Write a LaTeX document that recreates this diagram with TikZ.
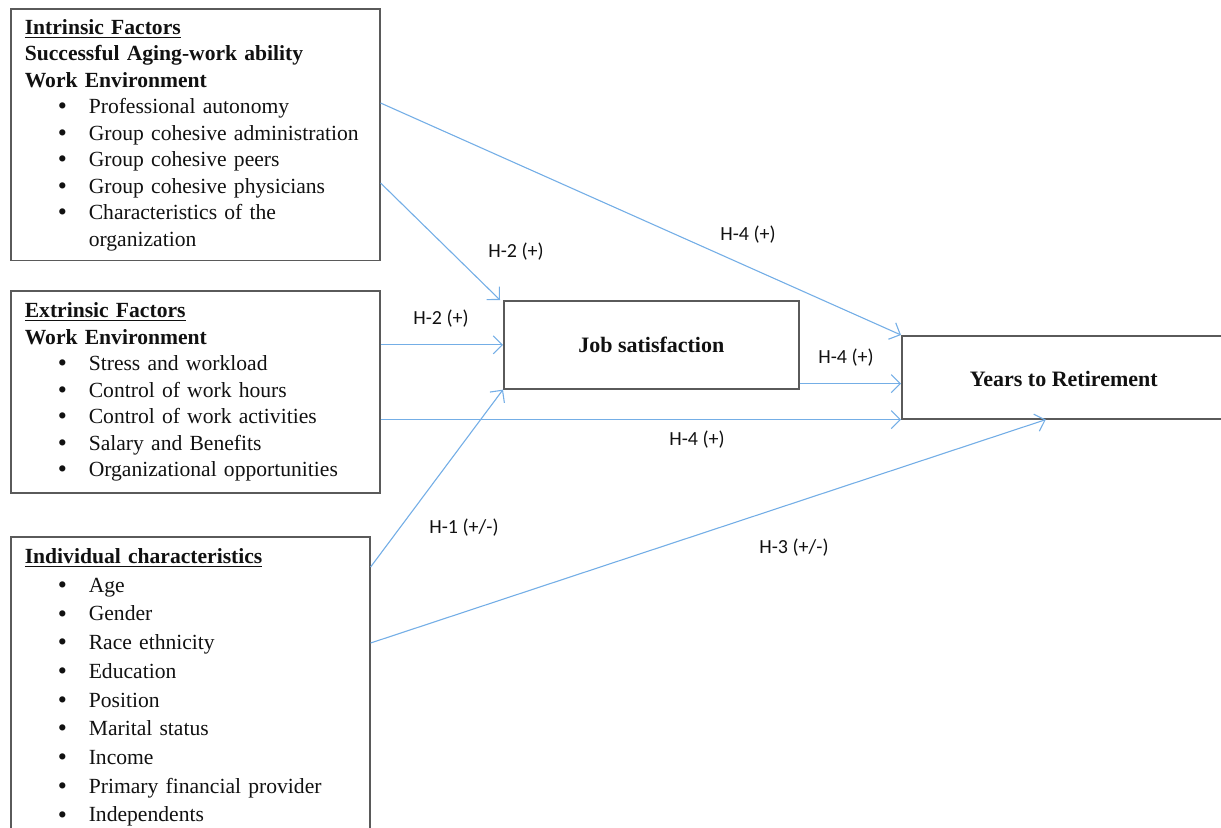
\documentclass[tikz,border=0pt]{standalone}
\usepackage{fontspec}
\setmainfont{Liberation Serif}
\newfontfamily\labelfont{Carlito}
\usetikzlibrary{arrows.meta,calc,positioning}
\definecolor{ink}{HTML}{111111}
\definecolor{frame}{HTML}{5A5A5A}
\definecolor{link}{HTML}{74AEE6}
\newcommand{\itm}[1]{\hspace*{16.5pt}\raisebox{-0.6pt}{\fontsize{13}{13}\selectfont\textbullet} & #1}
\newcommand{\hd}[1]{\multicolumn{2}{@{}l@{}}{#1}}

\begin{document}
\begin{tikzpicture}[x=0.5pt,y=-0.5pt,text=ink,
    factorbox/.style={draw=frame,line width=0.8pt,anchor=north west,inner xsep=7pt,
      align=left,font=\fontsize{10.8}{13.25}\selectfont},
    outcome/.style={draw=frame,line width=0.8pt,anchor=north west,font=\fontsize{11}{13.25}\selectfont\bfseries},
    hlink/.style={draw=link,line width=0.55pt,-{Straight Barb[length=4.5pt,width=9pt]}},
    hlabel/.style={font=\labelfont\fontsize{10}{12}\selectfont}]
  \useasboundingbox (0,0) rectangle (1221,827);

  % factor boxes
  \node[factorbox,text width=170.5pt,minimum height=124.5pt] (intr) at (10,8)
    {\begin{tabular}{@{}p{32pt}@{}l@{}}
     \hd{\underline{\textbf{Intrinsic Factors}}}\\
     \hd{\textbf{Successful Aging-work ability}}\\
     \hd{\textbf{Work Environment}}\\
     \itm{Professional autonomy}\\
     \itm{Group cohesive administration}\\
     \itm{Group cohesive peers}\\
     \itm{Group cohesive physicians}\\
     \itm{Characteristics of the}\\
     & organization
     \end{tabular}};
  \node[factorbox,text width=170.5pt,minimum height=101pt] (extr) at (10,290)
    {\begin{tabular}{@{}p{32pt}@{}l@{}}
     \hd{\underline{\textbf{Extrinsic Factors}}}\\
     \hd{\textbf{Work Environment}}\\
     \itm{Stress and workload}\\
     \itm{Control of work hours}\\
     \itm{Control of work activities}\\
     \itm{Salary and Benefits}\\
     \itm{Organizational opportunities}
     \end{tabular}};
  \node[factorbox,text width=165.5pt,minimum height=148pt,
    font=\fontsize{10.8}{14.35}\selectfont] (indiv) at (10,536)
    {\begin{tabular}{@{}p{32pt}@{}l@{}}
     \hd{\underline{\textbf{Individual characteristics}}}\\
     \itm{Age}\\
     \itm{Gender}\\
     \itm{Race ethnicity}\\
     \itm{Education}\\
     \itm{Position}\\
     \itm{Marital status}\\
     \itm{Income}\\
     \itm{Primary financial provider}\\
     \itm{Independents}
     \end{tabular}};

  % outcomes
  \node[outcome,minimum width=147.5pt,minimum height=44pt] (job) at (503,300) {Job satisfaction};
  \node[outcome,minimum width=162pt,minimum height=41.5pt,text height=12pt,text depth=2.4pt] (yrs) at (901,335) {Years to Retirement};

  % hypotheses
  \draw[hlink] ([yshift=-47.5pt]intr.north east) -- (yrs.north west);
  \draw[hlink] ([yshift=-87.5pt]intr.north east) -- ([xshift=-1.5pt]job.north west);
  \draw[hlink] (job.west -| extr.east) -- (job.west);
  \draw[hlink] ([yshift=-15.5pt]indiv.north east) -- (job.south west);
  \draw[hlink] ([yshift=3pt]job.south east) -- ([yshift=3pt]job.south east -| yrs.west);
  \draw[hlink] (yrs.south west -| extr.east) -- (yrs.south west);
  \draw[hlink] ([yshift=-53.5pt]indiv.north east) -- ([xshift=-9pt]yrs.south);

  \node[hlabel] (h4top) at (748,235) {H-4 (+)};
  \node[hlabel] (h2top) at (516,252) {H-2 (+)};
  \node[hlabel] (h2mid) at (441,319) {H-2 (+)};
  \node[hlabel] (h1) at (464,528) {H-1 (+/-)};
  \node[hlabel] (h4job) at (846,358) {H-4 (+)};
  \node[hlabel] (h4low) at (697,440) {H-4 (+)};
  \node[hlabel] (h3) at (794,548) {H-3 (+/-)};
\end{tikzpicture}
\end{document}
